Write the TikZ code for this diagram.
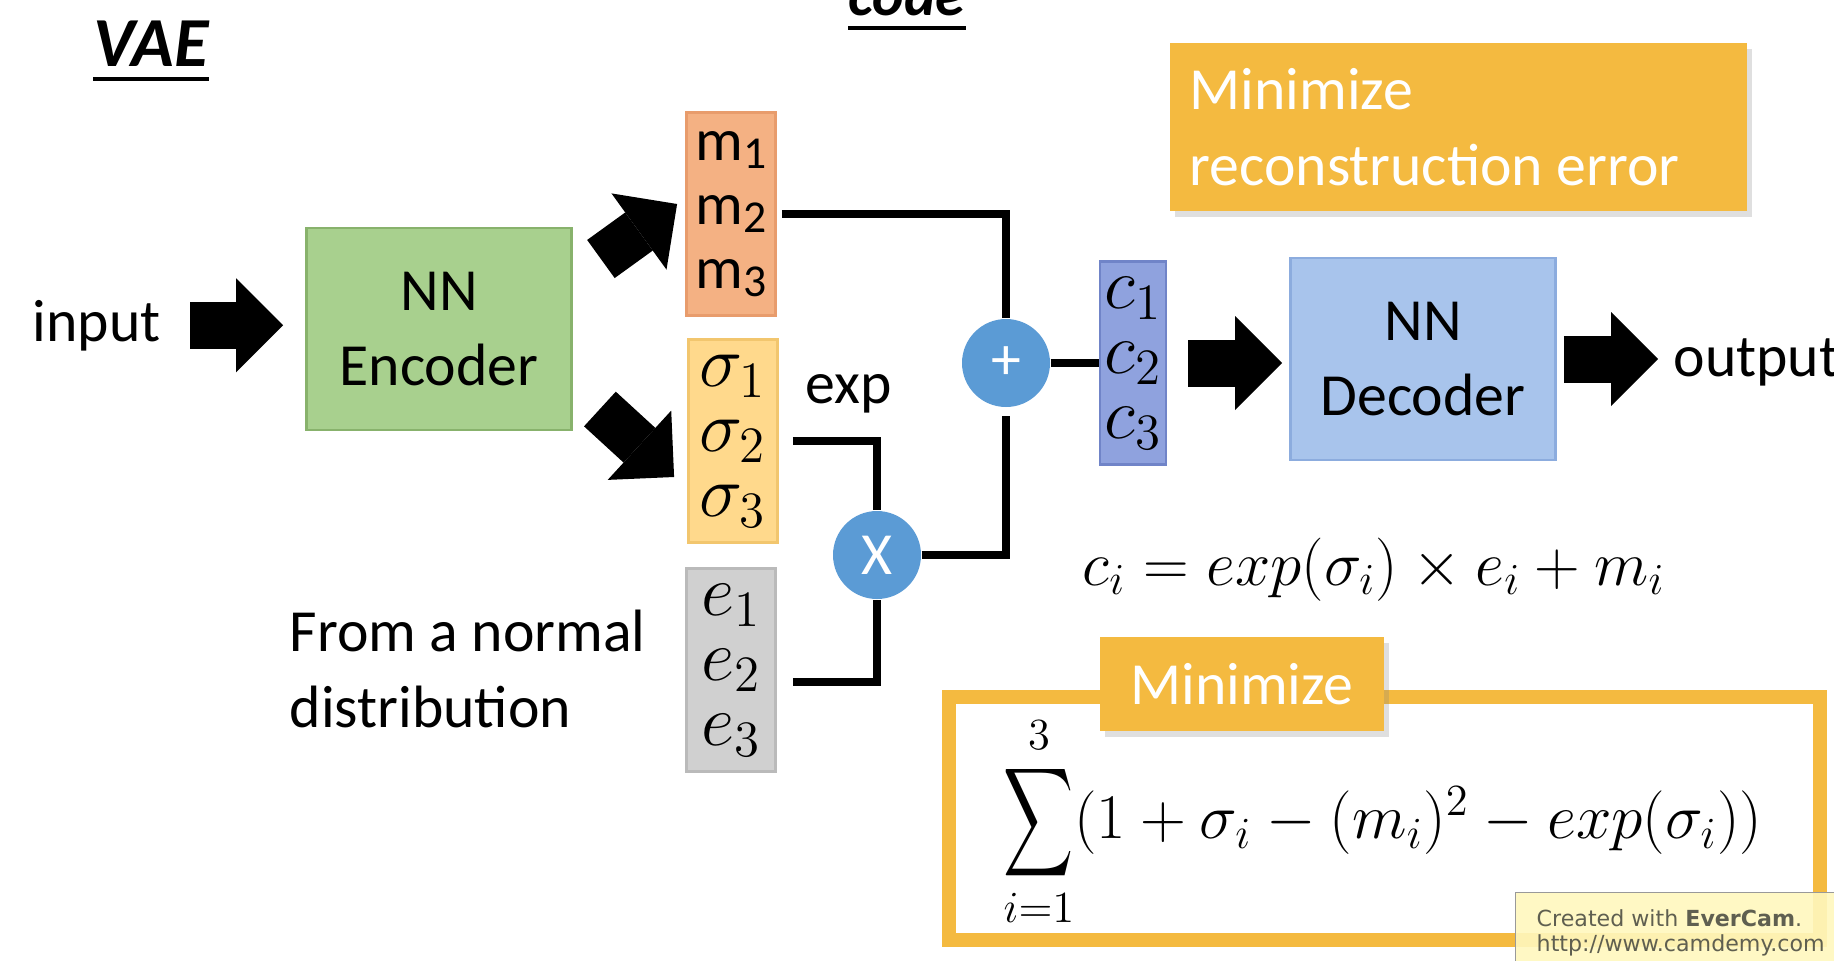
\documentclass[tikz,border=0pt]{standalone}
\usepackage{fix-cm}
\usepackage{exscale}
\usepackage{fontspec}
\setmainfont{Carlito}
\newfontfamily\markfont{DejaVu Sans}
\usetikzlibrary{arrows.meta,calc,shadows}
\definecolor{EncGreen}{RGB}{168,208,142}
\definecolor{EncEdge}{RGB}{136,178,108}
\definecolor{MeanOrange}{RGB}{244,177,131}
\definecolor{MeanEdge}{RGB}{232,156,108}
\definecolor{SigYellow}{RGB}{255,217,140}
\definecolor{SigEdge}{RGB}{242,198,110}
\definecolor{NoiseGrey}{RGB}{208,208,208}
\definecolor{NoiseEdge}{RGB}{186,186,186}
\definecolor{CodeBlue}{RGB}{143,162,222}
\definecolor{CodeEdge}{RGB}{112,132,200}
\definecolor{DecBlue}{RGB}{168,196,236}
\definecolor{DecEdge}{RGB}{140,172,222}
\definecolor{OpBlue}{RGB}{91,155,213}
\definecolor{Gold}{RGB}{244,186,64}
\definecolor{NoteYellow}{RGB}{255,248,190}
\definecolor{NoteGrey}{RGB}{95,95,80}
\newcommand{\lowsub}[1]{\raisebox{-0.28ex}{\fontsize{13}{13}\selectfont #1}}
\newcommand{\tallsum}{\mathop{\vcenter{\hbox{\scalebox{0.8}[1.25]{$\displaystyle\sum$}}}}\limits}
\tikzset{
  >=Latex,
  txt/.style={font=\fontsize{17}{21.6}\selectfont,inner sep=0pt,align=left},
  heading/.style={font=\fontsize{20}{24}\selectfont\bfseries\itshape,inner sep=0pt},
  uline/.style={line width=1.4pt},
  block/.style={draw,line width=0.8pt,align=center,font=\fontsize{17}{21.6}\selectfont,inner sep=0pt},
  net/.style={block,minimum width=2.65cm,minimum height=2.02cm},
  vec/.style={block,minimum width=0.89cm,minimum height=2.03cm,font=\fontsize{20.7}{18.5}\selectfont},
  op/.style={circle,fill=OpBlue,text=white,font=\fontsize{17}{17}\selectfont,minimum size=0.88cm,inner sep=0pt},
  gold/.style={fill=Gold,text=white,font=\fontsize{17}{21.6}\selectfont,drop shadow={opacity=0.25,shadow xshift=0.05cm,shadow yshift=-0.06cm}},
  wire/.style={line width=2.2pt},
  fat/.style={line width=0.47cm,-{Triangle[length=0.47cm,width=0.94cm,line width=0pt]}},
  eq/.style={font=\fontsize{18}{22}\selectfont,inner sep=0pt}
}

\begin{document}
\begin{tikzpicture}[x=1cm,y=1cm]
  \useasboundingbox[fill=white] (0,0) rectangle (18.34,9.6);
  \node[heading,anchor=base west] (vae) at (0.93,8.94) {VAE};
  \node[heading,anchor=base west,font=\fontsize{17}{20}\selectfont\bfseries\itshape] (code) at (8.48,9.45) {code};
  \draw[uline] ([yshift=-0.13cm]vae.base west) -- ([yshift=-0.13cm]vae.base east);
  \draw[uline] ([yshift=-0.13cm]code.base west) -- ([yshift=-0.13cm]code.base east);
  \node[txt,anchor=base west] (inp) at (0.32,6.19) {input};
  \node[net,fill=EncGreen,draw=EncEdge] (enc) at (4.39,6.31) {NN\\Encoder};
  \node[vec,fill=MeanOrange,draw=MeanEdge,font=\fontsize{17}{18.3}\selectfont] (mean) at (7.31,7.46) {m\lowsub{1}\\m\lowsub{2}\\m\lowsub{3}};
  \node[vec,fill=SigYellow,draw=SigEdge] (sig) at (7.33,5.19) {$\sigma_1$\\$\sigma_2$\\$\sigma_3$};
  \node[vec,fill=NoiseGrey,draw=NoiseEdge] (noise) at (7.31,2.90) {$e_1$\\$e_2$\\$e_3$};
  \node[txt,anchor=base west] (exp) at (8.05,5.57) {exp};
  \node[txt,anchor=base west] (src) at (2.89,2.33) {From a normal\\distribution};
  \node[op] (times) at (8.77,4.05) {X};
  \node[op] (plus) at (10.06,5.97) {+};
  \node[vec,minimum width=0.66cm,fill=CodeBlue,draw=CodeEdge] (cvec) at (11.33,5.97) {$c_1$\\$c_2$\\$c_3$};
  \node[net,fill=DecBlue,draw=DecEdge] (dec) at (14.23,6.01) {NN\\Decoder};
  \node[txt,anchor=base west] (out) at (16.73,5.84) {output};
  \node[gold,text width=5.37cm,inner xsep=0.2cm,minimum height=1.68cm,align=flush left] (recon) at (14.58,8.33) {Minimize\\reconstruction error};
  \node[eq,anchor=base] (rule) at (13.74,3.75) {$c_i=exp(\sigma_i)\times e_i+m_i$};
  \node[draw=Gold,line width=0.14cm,fill=white,minimum width=8.71cm,minimum height=2.43cm] (lossbox) at (13.84,1.42) {};
  \node[eq,font=\fontsize{18.1}{22}\selectfont] (loss) at (13.83,1.38) {$\tallsum_{i=1}^{3}(1+\sigma_i-(m_i)^2-exp(\sigma_i))$};
  \node[gold,minimum width=2.84cm,minimum height=0.94cm,inner sep=0pt] (tag) at (12.42,2.76) {Minimize};
  \node[draw=gray!80,fill=NoteYellow,fill opacity=0.9,text opacity=1,text=NoteGrey,font=\markfont\fontsize{6.3}{7.1}\selectfont,anchor=north west,align=left,inner xsep=0.18cm,minimum width=3.3cm,minimum height=0.8cm] (mark) at (15.15,0.68) {Created with \textbf{EverCam}.\\http://www.camdemy.com};
  \draw[fat,shorten <=0.29cm,shorten >=0.22cm] (inp.east) -- (enc.west |- inp.east);
  \draw[fat] ([shift={(0.28,0.70)}]enc.east) -- ([shift={(-0.08,0.10)}]mean.west);
  \draw[fat] ([shift={(0.27,-0.80)}]enc.east) -- ([shift={(-0.13,-0.36)}]sig.west);
  \draw[fat,shorten <=0.21cm,shorten >=0.07cm] (cvec.east) -- (dec.west |- cvec.east);
  \draw[fat,shorten <=0.07cm,shorten >=0.15cm] (dec.east) -- (out.west |- dec.east);
  \draw[wire] ([xshift=0.05cm]mean.east) -| (plus.north);
  \draw[wire] ([xshift=0.14cm]sig.east) -| (times.north);
  \draw[wire] ([xshift=0.16cm,yshift=-0.12cm]noise.east) -| (times.south);
  \draw[wire,shorten >=0.08cm] (times.east) -| (plus.south);
  \draw[wire] (plus.east) -- (cvec.west);
\end{tikzpicture}
\end{document}
